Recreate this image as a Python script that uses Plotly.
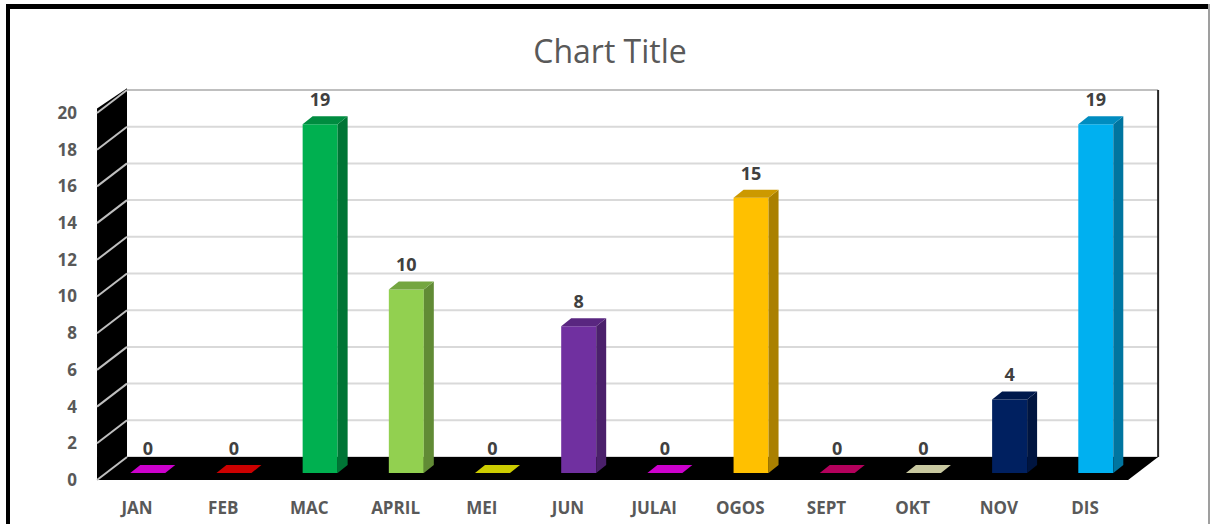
import plotly.graph_objects as go

# Monthly counts
months = ["JAN", "FEB", "MAC", "APRIL", "MEI", "JUN",
          "JULAI", "OGOS", "SEPT", "OKT", "NOV", "DIS"]
counts = [0, 0, 19, 10, 0, 8, 0, 15, 0, 0, 4, 19]
bar_colors = ["#FF00FF", "#FF0000", "#00B050", "#92D050", "#FFFF00", "#7030A0",
              "#FF00FF", "#FFC000", "#E10073", "#FAFAC8", "#002060", "#00B0F0"]
y_ticks = list(range(0, 21, 2))

W, H = 1210, 524
ML, MR, MT, MB = 90, 45, 80, 40

# pseudo-3D geometry (in axis units)
X0, X1 = -0.5454, 11.928
Y0, Y1 = -0.218, 21.798
WALL_DX, WALL_DY = 0.348, 1.253       # floor depth (front edge -> back wall)
BAR_DX, BAR_DY = 0.116, 0.436         # bar depth
BAR_OFF_X, BAR_BASE = 0.125, 0.381    # bar front face placement on the floor
BAR_W = 0.406
FRONT_LEFT, FRONT_RIGHT = -0.464, 11.5
Y_MAX = 20


def shade(hex_color, k):
    h = hex_color.lstrip("#")
    r, g, b = (int(h[i:i + 2], 16) for i in (0, 2, 4))
    return "#%02x%02x%02x" % (int(r * k), int(g * k), int(b * k))


def px_to_paper(px, py):
    return (px - ML) / (W - ML - MR), 1 - (py - MT) / (H - MT - MB)


fig = go.Figure()

# front faces
fig.add_trace(go.Bar(
    x=[i + BAR_OFF_X for i in range(len(months))],
    y=counts,
    base=[BAR_BASE] * len(months),
    width=BAR_W,
    marker=dict(color=bar_colors, line=dict(width=0)),
    hoverinfo="skip",
    showlegend=False,
))

# side and top faces
for i, (v, c) in enumerate(zip(counts, bar_colors)):
    xl = i + BAR_OFF_X - BAR_W / 2
    xr = i + BAR_OFF_X + BAR_W / 2
    top = BAR_BASE + v
    if v > 0:
        fig.add_trace(go.Scatter(
            x=[xr, xr + BAR_DX, xr + BAR_DX, xr, xr],
            y=[BAR_BASE, BAR_BASE + BAR_DY, top + BAR_DY, top, BAR_BASE],
            mode="lines", fill="toself", fillcolor=shade(c, 0.67),
            line=dict(width=0), hoverinfo="skip", showlegend=False,
        ))
    fig.add_trace(go.Scatter(
        x=[xl, xr, xr + BAR_DX, xl + BAR_DX, xl],
        y=[top, top, top + BAR_DY, top + BAR_DY, top],
        mode="lines", fill="toself", fillcolor=shade(c, 0.8),
        line=dict(width=0), hoverinfo="skip", showlegend=False,
    ))

# value labels
fig.add_trace(go.Scatter(
    x=[i + BAR_OFF_X for i in range(len(months))],
    y=[v + 1.62 for v in counts],
    mode="text",
    text=[str(v) for v in counts],
    textposition="middle center",
    textfont=dict(family="Open Sans", size=18, color="#404040", weight="bold"),
    hoverinfo="skip", showlegend=False,
))

shapes = []
back_left = FRONT_LEFT + WALL_DX
back_right = FRONT_RIGHT + WALL_DX

# back wall gridlines
for t in y_ticks:
    shapes.append(dict(
        type="line", xref="x", yref="y", layer="below",
        x0=back_left, x1=back_right, y0=t + WALL_DY, y1=t + WALL_DY,
        line=dict(color="#bfbfbf" if t == Y_MAX else "#d9d9d9", width=2),
    ))

# floor
shapes.append(dict(
    type="path", xref="x", yref="y", layer="below",
    path=(f"M {FRONT_LEFT} 0 L {back_left} {WALL_DY} "
          f"L {back_right} {WALL_DY} L {FRONT_RIGHT} 0 Z"),
    fillcolor="black", line=dict(width=0),
))

# left side wall
shapes.append(dict(
    type="path", xref="x", yref="y", layer="below",
    path=(f"M {FRONT_LEFT} 0 L {FRONT_LEFT} {Y_MAX + 0.25} "
          f"L {back_left} {Y_MAX + WALL_DY + 0.1} L {back_left} {WALL_DY} Z"),
    fillcolor="black", line=dict(width=0),
))

# gridlines across the side wall
for t in y_ticks:
    shapes.append(dict(
        type="line", xref="x", yref="y", layer="below",
        x0=FRONT_LEFT, x1=back_left, y0=t, y1=t + WALL_DY,
        line=dict(color="#bfbfbf", width=2),
    ))

# right edge of the back wall
shapes.append(dict(
    type="line", xref="x", yref="y", layer="below",
    x0=back_right, x1=back_right, y0=WALL_DY, y1=Y_MAX + WALL_DY,
    line=dict(color="#262626", width=2),
))

# outer chart frame
fx0, fy0 = px_to_paper(6, 6.5)
fx1, _ = px_to_paper(1208, 6.5)
shapes.append(dict(type="line", xref="paper", yref="paper",
                   x0=fx0, x1=fx1, y0=fy0, y1=fy0,
                   line=dict(color="black", width=5)))
lx, ly0 = px_to_paper(8, 4)
_, ly1 = px_to_paper(8, 524)
shapes.append(dict(type="line", xref="paper", yref="paper",
                   x0=lx, x1=lx, y0=ly0, y1=ly1,
                   line=dict(color="black", width=4)))
rx, _ = px_to_paper(1209, 4)
shapes.append(dict(type="line", xref="paper", yref="paper",
                   x0=rx, x1=rx, y0=ly0, y1=ly1,
                   line=dict(color="#7f7f7f", width=1.5)))

fig.update_layout(
    width=W, height=H,
    margin=dict(l=ML, r=MR, t=MT, b=MB),
    paper_bgcolor="white", plot_bgcolor="white",
    shapes=shapes,
    showlegend=False,
    title=dict(
        text="Chart Title",
        x=610 / W, xanchor="center",
        y=1 - 52 / H, yanchor="middle", yref="container",
        font=dict(family="Open Sans", size=32, color="#595959"),
    ),
    xaxis=dict(
        range=[X0, X1], tickmode="array",
        tickvals=list(range(len(months))), ticktext=months,
        showgrid=False, zeroline=False, showline=False, ticks="",
        ticklabelstandoff=12, automargin=False,
        tickfont=dict(family="Open Sans", size=17, color="#595959", weight="bold"),
        fixedrange=True,
    ),
    yaxis=dict(
        range=[Y0, Y1], tickmode="array", tickvals=y_ticks,
        showgrid=False, zeroline=False, showline=False, ticks="",
        ticklabelstandoff=12, automargin=False,
        tickfont=dict(family="Open Sans", size=17, color="#595959", weight="bold"),
        fixedrange=True,
    ),
)

fig.write_html("out.html")
